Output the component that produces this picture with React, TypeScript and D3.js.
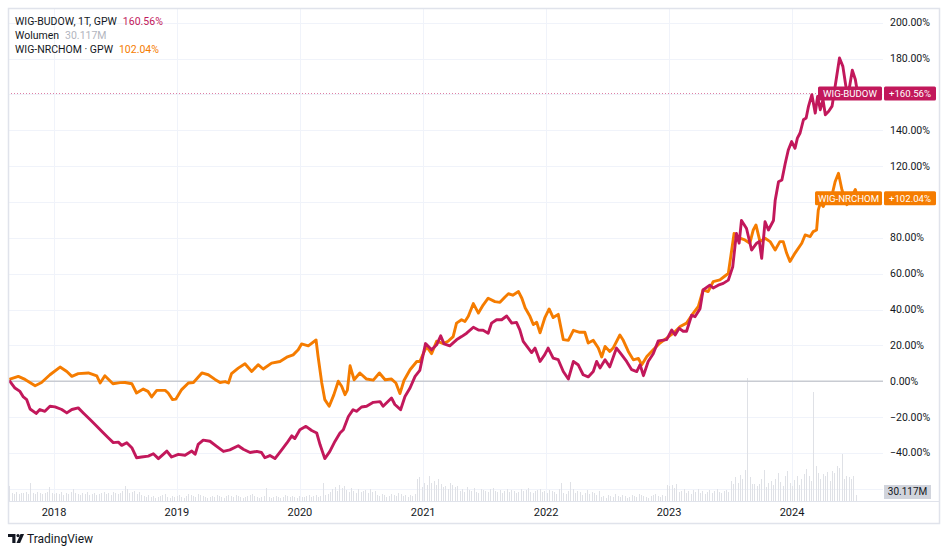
import { useEffect, useRef } from 'react';
import * as d3 from 'd3';

// WIG-BUDOW, weekly, % change from first bar
const budowDates = [
  '2017-08-21','2017-09-07','2017-09-22','2017-10-02','2017-10-12','2017-10-22','2017-11-09','2017-11-20','2017-12-05','2017-12-20',
  '2018-01-04','2018-01-24','2018-02-08','2018-02-23','2018-03-14','2018-03-29','2018-04-18','2018-05-08','2018-05-27','2018-06-11',
  '2018-06-26','2018-07-11','2018-07-21','2018-08-05','2018-08-20','2018-09-03','2018-09-18','2018-10-08','2018-10-23','2018-11-07',
  '2018-12-02','2018-12-16','2019-01-05','2019-01-25','2019-02-14','2019-02-24','2019-03-05','2019-03-20','2019-04-09','2019-04-29',
  '2019-05-19','2019-06-07','2019-07-02','2019-07-17','2019-08-06','2019-08-26','2019-09-09','2019-09-19','2019-10-04','2019-10-19',
  '2019-11-08','2019-11-23','2019-12-08','2019-12-17','2020-01-01','2020-01-19','2020-02-05','2020-02-20','2020-03-01','2020-03-15',
  '2020-03-30','2020-04-14','2020-04-29','2020-05-09','2020-05-24','2020-06-07','2020-06-17','2020-07-02','2020-07-17','2020-08-06',
  '2020-08-26','2020-09-04','2020-09-29','2020-10-09','2020-10-26','2020-11-08','2020-11-23','2020-12-08','2020-12-22','2021-01-08',
  '2021-01-26','2021-02-10','2021-02-22','2021-03-04','2021-03-21','2021-04-10','2021-04-25','2021-05-10','2021-05-30','2021-06-14',
  '2021-06-28','2021-07-13','2021-07-23','2021-08-07','2021-08-22','2021-09-06','2021-09-21','2021-10-05','2021-10-15','2021-10-25',
  '2021-11-09','2021-11-19','2021-11-29','2021-12-14','2021-12-28','2022-01-07','2022-01-22','2022-02-06','2022-02-21','2022-03-08',
  '2022-03-23','2022-04-06','2022-04-21','2022-05-06','2022-05-21','2022-05-31','2022-06-10','2022-06-25','2022-07-09','2022-07-29',
  '2022-08-13','2022-08-28','2022-09-12','2022-09-27','2022-10-07','2022-10-17','2022-10-31','2022-11-15','2022-11-30','2022-12-25',
  '2023-01-09','2023-01-19','2023-01-31','2023-02-12','2023-02-22','2023-03-09','2023-03-19','2023-04-03','2023-04-12','2023-05-02',
  '2023-05-12','2023-05-27','2023-06-11','2023-06-26','2023-07-09','2023-07-20','2023-07-28','2023-08-04','2023-08-19','2023-09-03',
  '2023-09-18','2023-09-26','2023-10-03','2023-10-13','2023-10-23','2023-11-07','2023-11-12','2023-11-22','2023-12-02','2023-12-12',
  '2023-12-21','2023-12-31','2024-01-10','2024-01-17','2024-01-25','2024-02-04','2024-02-12','2024-02-19','2024-02-29','2024-03-10',
  '2024-03-17','2024-03-25','2024-04-02','2024-04-09','2024-04-19','2024-04-29','2024-05-08','2024-05-21','2024-05-31','2024-06-12',
  '2024-06-20','2024-06-28','2024-07-07','2024-07-14',
];
const budowValues = [
  0.4,-3.8,-5.7,-8.8,-10.3,-15.5,-18,-15.8,-16.8,-14,
  -14.3,-15.8,-17.7,-15.8,-14.9,-17.7,-21.4,-25.1,-28.8,-31.6,
  -34.3,-34,-35.8,-34.3,-37.1,-42.7,-42.3,-41.8,-40.5,-43.2,
  -39,-42.3,-40.8,-41.3,-39,-40.8,-35.3,-32.9,-33.5,-36.4,
  -39.2,-38.3,-36,-38,-39.8,-39.2,-39.8,-42.7,-41.5,-43.2,
  -38.3,-34.6,-30.5,-32,-27.1,-25.2,-27.5,-28.9,-35.5,-43.2,
  -39.2,-33.6,-28.9,-27.1,-19.7,-15.9,-16.8,-14.4,-14,-11.8,
  -11.4,-14,-9.4,-13,-15.9,-8.5,-3.8,2.7,6,21,
  17.5,20.3,25.3,20.8,19.7,23.1,24.9,26.8,30.1,28.6,
  28.4,26.8,32.4,34.3,34.3,36.4,32.4,32.8,28.6,22.2,
  18.5,16,18.5,11,14.8,18.5,12.9,12,5.4,1.2,
  11,9.2,3.6,2.4,5.4,11,7.4,12,8,18.5,
  14.8,11,6.4,5.4,9.2,3.1,11,15.3,22.5,23.2,
  28.6,25.8,29.5,27.9,27.9,36.8,36,40.5,50.9,53.6,
  52,53.6,54.6,56.4,63.8,82.5,77,89.7,85.2,73.2,
  77,77.9,68.6,89,84.4,89.7,100.8,111.3,112.3,121.6,
  129,133.7,130,135.6,138.5,145.9,146.9,153.4,159.9,149.6,
  158.9,151.5,157.1,148.7,150.6,153.5,164.5,180.4,175.7,160.8,
  164.5,173.5,168.4,160.56,
];

// WIG-NRCHOM, same base date
const nrchomDates = [
  '2017-08-21','2017-09-17','2017-10-07','2017-11-06','2017-11-25','2017-12-20','2018-01-19','2018-02-08','2018-02-23','2018-03-14',
  '2018-04-13','2018-05-08','2018-05-18','2018-06-01','2018-06-25','2018-07-16','2018-07-31','2018-08-20','2018-09-03','2018-09-23',
  '2018-10-07','2018-10-18','2018-11-02','2018-11-27','2018-12-06','2018-12-19','2018-12-29','2019-01-15','2019-02-04','2019-02-19',
  '2019-03-16','2019-04-04','2019-04-24','2019-05-09','2019-05-24','2019-06-03','2019-06-12','2019-07-02','2019-07-22','2019-08-11',
  '2019-08-30','2019-09-14','2019-10-09','2019-11-03','2019-11-23','2019-12-12','2019-12-27','2020-01-06','2020-01-26','2020-02-18',
  '2020-02-24','2020-03-06','2020-03-15','2020-03-28','2020-04-11','2020-04-24','2020-05-04','2020-05-14','2020-05-21','2020-05-29',
  '2020-06-10','2020-06-27','2020-07-17','2020-08-06','2020-08-24','2020-09-10','2020-09-29','2020-10-12','2020-10-24','2020-11-05',
  '2020-11-23','2020-12-13','2020-12-22','2021-01-11','2021-01-26','2021-02-10','2021-03-02','2021-03-16','2021-03-31','2021-04-10',
  '2021-04-25','2021-05-05','2021-05-15','2021-05-30','2021-06-14','2021-06-28','2021-07-13','2021-08-02','2021-08-17','2021-09-01',
  '2021-09-11','2021-09-24','2021-10-11','2021-10-21','2021-10-31','2021-11-14','2021-11-24','2021-12-04','2021-12-14','2021-12-28',
  '2022-01-10','2022-01-22','2022-02-06','2022-02-21','2022-03-08','2022-03-23','2022-04-11','2022-04-26','2022-05-06','2022-05-21',
  '2022-06-05','2022-06-15','2022-06-25','2022-07-09','2022-07-19','2022-08-08','2022-08-18','2022-09-02','2022-09-17','2022-10-02',
  '2022-10-12','2022-10-27','2022-11-15','2022-12-05','2022-12-25','2023-01-14','2023-02-03','2023-02-22','2023-03-14','2023-03-29',
  '2023-04-12','2023-04-27','2023-05-12','2023-06-01','2023-06-16','2023-06-26','2023-07-06','2023-07-13','2023-07-30','2023-08-14',
  '2023-08-29','2023-09-08','2023-09-16','2023-09-28','2023-10-13','2023-10-28','2023-11-12','2023-11-26','2023-12-06','2023-12-16',
  '2023-12-26','2024-01-10','2024-01-30','2024-02-09','2024-02-24','2024-03-04','2024-03-14','2024-03-19','2024-03-25','2024-04-03',
  '2024-04-14','2024-04-29','2024-05-08','2024-05-18','2024-05-28','2024-06-12','2024-06-27','2024-07-07','2024-07-14',
];
const nrchomValues = [
  1,2.7,1,-2.5,-0.7,3.6,7.9,5.4,2.7,4.2,
  4.6,3,-1,3,-1.4,-0.8,-0.7,-1.4,-6.6,-4.4,
  -5.7,-8.8,-5.1,-5.1,-6.6,-10.3,-10,-4.7,-1,-0.7,
  4.6,3.6,1,-0.7,-0.2,-1,4.2,7.3,9.7,5.4,
  9.2,6.8,10.1,11,13.4,14.7,17.5,20.8,19.7,23,
  13.8,-1,-10.3,-14,-7.5,0,-2.8,-7.5,-5,8.6,
  0.8,4.6,1.2,0.6,4.6,0.8,1.2,-1,-6.9,0.4,
  6.4,11,11,19.4,15.4,22.3,21,22.3,24.9,32.4,
  34.3,33.3,36.2,43.3,38,42.5,46.3,44.4,44,47,
  48.8,48,50,46.3,40.8,36.2,31.6,32.9,27,35.3,
  40.3,35.5,37.3,23.2,22.8,28.4,27.3,27.3,21.3,22.8,
  18.5,13.5,19.4,16.6,18.5,25.8,22.8,16.6,11.9,12.7,
  9.2,13.8,17.5,21.3,24,26.8,30.5,32.4,38,41.7,
  50.9,50,55.6,56.5,58.7,60.2,73.2,82.5,79.8,78.8,
  77,84.4,87.2,77.9,79.8,77.9,73.2,77.9,77.9,71.5,
  66.8,71.5,77,81.6,80.7,83.5,84.4,95.5,99.4,97.5,
  103,104,111.3,116,107,98.5,103,107,102.04,
];

// weekly volume of WIG-BUDOW in millions, first week below
const volumeStart = '2017-08-21';
const volumeValues = [
  75,40,35,45,35,40,40,45,35,90,40,35,45,40,35,40,45,70,40,35,
  40,35,45,30,40,35,45,60,40,35,30,40,35,45,30,35,40,30,35,40,45,35,40,30,45,40,35,40,50,75,60,40,45,
  50,35,45,30,25,20,30,20,25,15,20,25,30,35,20,15,25,
  20,25,30,20,15,25,35,30,25,20,35,30,25,20,15,20,25,20,30,25,20,15,25,30,25,20,30,25,20,15,
  20,25,30,35,25,20,15,20,25,65,20,15,20,25,20,15,20,30,25,20,25,20,15,25,20,
  20,25,30,20,25,30,20,25,90,30,35,
  45,60,70,50,80,65,75,55,45,65,50,40,60,45,50,55,40,60,45,50,
  30,25,35,30,20,25,35,30,25,40,35,25,30,20,30,25,35,
  110,120,70,90,80,125,90,100,80,110,85,70,75,60,90,80,70,75,
  50,60,45,70,55,50,65,45,40,60,55,50,45,60,65,50,45,55,40,50,
  60,45,55,50,40,45,60,50,55,65,45,40,50,55,60,45,50,40,55,50,
  45,35,60,90,40,35,50,95,60,40,50,45,30,40,55,35,45,40,30,50,
  20,25,15,30,25,20,35,25,20,30,25,15,20,30,25,20,35,30,25,20,15,25,30,35,25,20,30,25,
  80,75,80,65,85,45,50,60,
  40,50,35,55,45,60,40,50,35,45,55,40,50,60,45,40,50,55,45,
  100,85,120,90,130,110,155,
  615,
  120,85,85,75,85,110,155,70,90,100,80,110,140,95,75,125,150,90,75,105,125,80,110,135,160,125,100,
  545,
  175,140,110,135,125,145,100,150,140,175,165,235,110,125,120,110,125,30.117,
];

const yTicks = [-60, -40, -20, 0, 20, 40, 60, 80, 100, 120, 140, 160, 180, 200];
const yearTicks = ['2018', '2019', '2020', '2021', '2022', '2023', '2024'];

const MAGENTA = '#c2185b';
const ORANGE  = '#f57c00';
const TEXT    = '#131722';
const FONT    = 'Roboto, "Noto Sans", sans-serif';

export default function App() {
  const svgRef = useRef<SVGSVGElement>(null);

  useEffect(() => {
    if (!svgRef.current) return;
    const svg = d3.select(svgRef.current);
    svg.selectAll('*').remove();

    const parse = d3.timeParse('%Y-%m-%d');
    const left = 8, top = 8, right = 939, bottom = 523;
    const plotRight = 883, plotBottom = 501;

    const x = d3.scaleTime()
      .domain([parse('2018-01-01')!, parse('2024-01-01')!])
      .range([54, 792]);
    const y = d3.scaleLinear().domain([0, 200]).range([381.2, 22.8]);
    const yVol = d3.scaleLinear().domain([0, 620]).range([plotBottom, 377]);

    const lastBudow  = budowValues[budowValues.length - 1];
    const lastNrchom = nrchomValues[nrchomValues.length - 1];
    const lastVol    = volumeValues[volumeValues.length - 1];

    svg.append('rect').attr('width', 948).attr('height', 553).attr('fill', '#fff');

    svg.append('clipPath').attr('id', 'plot-clip')
      .append('rect').attr('x', left).attr('y', top)
      .attr('width', plotRight - left).attr('height', plotBottom - top);

    // grid
    const grid = svg.append('g').attr('stroke', '#f0f3fa').attr('stroke-width', 1);
    yTicks.forEach(t => {
      const yy = Math.round(y(t)) + 0.5;
      grid.append('line').attr('x1', left).attr('x2', plotRight).attr('y1', yy).attr('y2', yy);
    });
    yearTicks.forEach(t => {
      const xx = Math.round(x(parse(`${t}-01-01`)!)) + 0.5;
      grid.append('line').attr('x1', xx).attr('x2', xx).attr('y1', top).attr('y2', plotBottom);
    });

    const plot = svg.append('g').attr('clip-path', 'url(#plot-clip)');

    // volume
    const t0 = parse(volumeStart)!;
    plot.append('g').selectAll('rect')
      .data(volumeValues)
      .enter().append('rect')
      .attr('x', (_, i) => Math.round(x(d3.timeWeek.offset(t0, i))))
      .attr('width', 1)
      .attr('y', d => yVol(d))
      .attr('height', d => plotBottom - yVol(d))
      .attr('fill', '#dfe1e6');

    // zero line
    plot.append('line')
      .attr('x1', left).attr('x2', plotRight)
      .attr('y1', y(0)).attr('y2', y(0))
      .attr('stroke', '#c8cbd2').attr('stroke-width', 1.5);

    // last value dotted line
    const yLast = Math.round(y(lastBudow)) + 0.5;
    plot.append('line')
      .attr('x1', left).attr('x2', plotRight)
      .attr('y1', yLast).attr('y2', yLast)
      .attr('stroke', MAGENTA).attr('stroke-opacity', 0.55)
      .attr('stroke-width', 1).attr('stroke-dasharray', '1,2');

    const line = d3.line<[Date, number]>()
      .x(d => x(d[0]))
      .y(d => y(d[1]));

    const nrchom = nrchomDates.map((d, i) => [parse(d)!, nrchomValues[i]] as [Date, number]);
    const budow  = budowDates.map((d, i) => [parse(d)!, budowValues[i]] as [Date, number]);

    plot.append('path').attr('d', line(nrchom)!)
      .attr('fill', 'none').attr('stroke', ORANGE).attr('stroke-width', 2.9)
      .attr('stroke-linejoin', 'round');
    plot.append('path').attr('d', line(budow)!)
      .attr('fill', 'none').attr('stroke', MAGENTA).attr('stroke-width', 2.9)
      .attr('stroke-linejoin', 'round');

    // frame and axis separator
    svg.append('rect')
      .attr('x', left + 0.5).attr('y', top + 0.5)
      .attr('width', right - left).attr('height', bottom - top)
      .attr('fill', 'none').attr('stroke', '#e0e3eb').attr('stroke-width', 1.5);
    svg.append('line')
      .attr('x1', left).attr('x2', right)
      .attr('y1', plotBottom + 0.5).attr('y2', plotBottom + 0.5)
      .attr('stroke', '#e0e3eb');

    // price axis labels, the ones hidden behind the value tags are skipped
    const covered = [y(lastBudow), y(lastNrchom), 492];
    const fmt = (v: number) => `${v < 0 ? '\u2212' : ''}${Math.abs(v).toFixed(2)}%`;
    svg.append('g').selectAll('text')
      .data(yTicks.filter(t => covered.every(c => Math.abs(y(t) - c) > 11)))
      .enter().append('text')
      .attr('x', 890).attr('y', d => y(d) + 3.6)
      .attr('font-family', FONT).attr('font-size', '10.5px').attr('fill', TEXT)
      .text(d => fmt(d));

    // time axis labels
    svg.append('g').selectAll('text')
      .data(yearTicks)
      .enter().append('text')
      .attr('x', d => x(parse(`${d}-01-01`)!))
      .attr('y', 516)
      .attr('text-anchor', 'middle')
      .attr('font-family', FONT).attr('font-size', '11px').attr('fill', TEXT)
      .text(d => d);

    // last value tags
    const tag = (v: number, name: string, color: string, nameX: number) => {
      const yy = y(v);
      const g = svg.append('g').attr('font-family', FONT).attr('font-size', '9.6px').attr('fill', '#fff');
      g.append('rect').attr('x', nameX).attr('y', yy - 7).attr('width', 882 - nameX).attr('height', 14)
        .attr('fill', color).attr('rx', 1.5);
      g.append('rect').attr('x', 884).attr('y', yy - 7).attr('width', 52).attr('height', 14)
        .attr('fill', color).attr('rx', 1.5);
      g.append('text').attr('x', (nameX + 882) / 2).attr('y', yy + 3.4)
        .attr('text-anchor', 'middle').text(name);
      g.append('text').attr('x', 910).attr('y', yy + 3.4)
        .attr('text-anchor', 'middle').text(`+${v.toFixed(2)}%`);
    };
    tag(lastNrchom, 'WIG-NRCHOM', ORANGE, 815);
    tag(lastBudow, 'WIG-BUDOW', MAGENTA, 818);

    // volume tag
    svg.append('rect').attr('x', 884).attr('y', 485).attr('width', 47).attr('height', 14)
      .attr('fill', '#d1d4dc');
    svg.append('text').attr('x', 907.5).attr('y', 495.4)
      .attr('text-anchor', 'middle')
      .attr('font-family', FONT).attr('font-size', '10px').attr('fill', TEXT)
      .text(`${lastVol.toFixed(3)}M`);

    // legend
    const legend = svg.append('g').attr('font-family', FONT).attr('font-size', '10.5px');
    const rows: [string, string, string][] = [
      ['WIG-BUDOW, 1T, GPW', `${lastBudow.toFixed(2)}%`, MAGENTA],
      ['Wolumen', `${lastVol.toFixed(3)}M`, '#b2b5be'],
      ['WIG-NRCHOM \u00b7 GPW', `${lastNrchom.toFixed(2)}%`, ORANGE],
    ];
    rows.forEach(([label, val, col], i) => {
      const t = legend.append('text').attr('x', 15).attr('y', 24.5 + i * 14);
      t.append('tspan').attr('fill', TEXT).text(label);
      t.append('tspan').attr('fill', col).attr('dx', 6).text(val);
    });

    // TradingView mark
    const logo = svg.append('g').attr('fill', TEXT);
    logo.append('path').attr('d', 'M8,534 h7.5 v9 h-3.2 v-6 h-4.3 z');
    logo.append('circle').attr('cx', 18).attr('cy', 535.6).attr('r', 1.6);
    logo.append('path').attr('d', 'M20.5,534 h3.6 l-4,9 h-3.6 z');
    svg.append('text').attr('x', 27).attr('y', 543)
      .attr('font-family', FONT).attr('font-size', '12px').attr('fill', TEXT)
      .text('TradingView');
  }, []);

  return (
    <div style={{ position: 'absolute', left: 0, top: 0 }}>
      <svg ref={svgRef} width={948} height={553} style={{ display: 'block' }} />
    </div>
  );
}
